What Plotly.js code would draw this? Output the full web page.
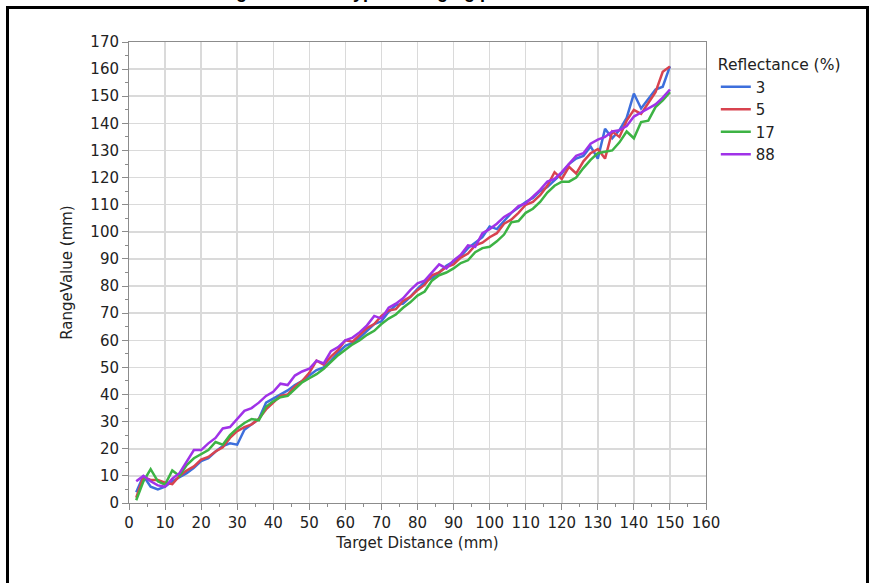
<!DOCTYPE html>
<html>
<head>
<meta charset="utf-8">
<script src="https://cdn.plot.ly/plotly-3.0.1.min.js"></script>
<style>
  html, body { margin: 0; padding: 0; background: #fff; overflow: hidden; }
  #chart { width: 872px; height: 583px; }
  #frame { position: absolute; left: 6px; top: 6px; width: 857px; height: 640px;
           border: 3px solid #000; pointer-events: none; }
</style>
</head>
<body>
<div id="chart"></div>
<div id="frame"></div>
<script>
// Target distance (mm)
const distance = [2,4,6,8,10,12,14,16,18,20,22,24,26,28,30,32,34,36,38,40,
  42,44,46,48,50,52,54,56,58,60,62,64,66,68,70,72,74,76,78,80,
  82,84,86,88,90,92,94,96,98,100,102,104,106,108,110,112,114,116,118,120,
  122,124,126,128,130,132,134,136,138,140,142,144,146,148,150];

// Range value (mm) per reflectance
const refl3 = [4,10,6,5,6,8,9.5,11,13,15.5,16.5,19,21,22,21.5,27,29,31,37,38.5,
  40,41.5,43.5,45,47,49,50,52.5,55.5,58,59,61,63.5,66,67,70.5,73,73.5,76,79,
  81.5,83,85,87.5,89,91,94,96,98,102,101,104,107,109,111,112.5,115,116.5,119,121.5,
  125,127,128,131.5,127,138,134.5,137.5,142,151,145.5,149,152.5,153.5,161];
const refl5 = [2,9.5,8.5,8.5,7.5,7,10,12,13.5,16,17,19,20.5,24,26.5,28,29,31,34.5,37,
  39.5,40,43,45,48,52.5,51,54,56.5,60,59.5,62,64.5,66,69,71,71.5,74.5,76,78.5,
  80.5,84,85,87,88,90.5,92,95,96,98,99.5,103,104.5,107,110,111,113.5,117,122,119.5,
  124,121.5,126,129,130.5,127,137,135,141,145,143.5,147.5,151.5,159,161];
const refl17 = [1,8,12.5,8,6.8,12,10,14,16.5,18,19.5,22.5,21.5,25,27.5,29.5,31,30.5,35.5,37.5,
  39,39.5,42,44.5,46,47.5,49.5,52,54.5,56.5,58.5,60,62,63.5,66,68,69.5,72,74,76.5,
  78,82,84,85,86.5,88.5,89.5,92.5,94,94.5,96.5,99,103.5,104,107,108.5,111,114.5,117,118.5,
  118.5,120,123.5,126.5,129,129.5,130,133,137,134.5,140.5,141,146,148.5,151.5];
const refl88 = [8,10,8,6.5,6,9,11,15,19.5,19.5,22,24,27.5,28,31,34,35,37,39.5,41,
  44,43.5,47,48.5,49.5,52.5,51.5,56,57.5,60,61,63,65.5,69,68,72,73.5,75.5,78.5,81,
  82,85,88,86.5,89.5,91.5,95,94.5,99.5,101,103,105.5,107,109.5,110.5,113,115.5,118.5,119.5,122,
  125,128,129,132.5,134,135,137,137.5,139,142.5,144,145.5,147,149.5,152.5];

const seriesNames = ['3','5','17','88'];
const seriesValues = [refl3, refl5, refl17, refl88];
const seriesColors = ['#3d6fdc','#d8434f','#3db344','#a032e8'];

const FONT = 'DejaVu Sans, sans-serif';

const traces = seriesValues.map((v, i) => ({
  x: distance, y: v, name: seriesNames[i], type: 'scatter', mode: 'lines',
  line: {color: seriesColors[i], width: 2.5}
}));

const axisCommon = {
  showgrid: true, gridcolor: '#dadada', gridwidth: 1.5,
  showline: true, linecolor: '#8c8c8c', linewidth: 1, mirror: true,
  ticks: 'outside', ticklen: 6, tickcolor: '#8c8c8c', tickwidth: 1,
  dtick: 10, zeroline: false,
  tickfont: {family: FONT, size: 15, color: '#222'},
  minor: {dtick: 5, ticks: 'outside', ticklen: 3, tickcolor: '#8c8c8c', showgrid: false},
  fixedrange: true
};

const layout = {
  width: 872, height: 583,
  margin: {l: 129, r: 166, t: 42, b: 80},
  paper_bgcolor: '#fff', plot_bgcolor: '#fff',
  showlegend: true,
  xaxis: Object.assign({}, axisCommon, {
    range: [0, 160], tick0: 0,
    title: {text: 'Target Distance (mm)', font: {family: FONT, size: 15, color: '#222'}, standoff: 6}
  }),
  yaxis: Object.assign({}, axisCommon, {
    range: [0, 170], tick0: 0,
    title: {text: 'RangeValue (mm)', font: {family: FONT, size: 15, color: '#222'}, standoff: 14}
  }),
  legend: {
    x: 1.017, xanchor: 'left', y: 0.982, yanchor: 'top',
    bgcolor: 'rgba(0,0,0,0)',
    font: {family: FONT, size: 15, color: '#222'},
    title: {text: 'Reflectance (%)', font: {family: FONT, size: 15.5, color: '#222'}},
    itemwidth: 30, tracegroupgap: 0
  },
  annotations: [{
    text: '<b>Figure 14. The typical ranging performance</b>',
    xref: 'paper', yref: 'paper', x: 0.155, y: 1.0825,
    xanchor: 'left', yanchor: 'bottom', showarrow: false,
    font: {family: 'Liberation Sans, Arial, sans-serif', size: 18, color: '#000'}
  }]
};

Plotly.newPlot('chart', traces, layout, {displayModeBar: false, staticPlot: true});
</script>
</body>
</html>
